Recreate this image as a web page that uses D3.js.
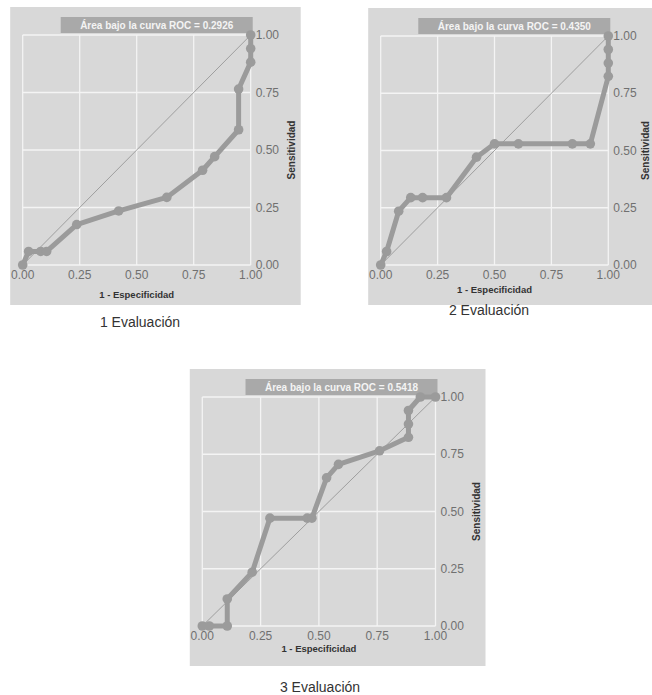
<!DOCTYPE html>
<html>
	<head>
		<meta charset="utf-8" />
		<title>Curvas ROC</title>
		<script src="https://d3js.org/d3.v7.min.js"></script>
		<style>
			body { margin: 0; background: #fff; }
			text { font-family: "Liberation Sans", Arial, sans-serif; }
		</style>
	</head>
	<body>
		<svg width="652" height="695"></svg>
		<script>
			// values
			const fpr1 = [0, 0.026, 0.079, 0.105, 0.237, 0.421, 0.632, 0.789, 0.842, 0.947, 0.947, 1, 1, 1];
			const tpr1 = [0, 0.059, 0.059, 0.059, 0.176, 0.235, 0.294, 0.412, 0.471, 0.588, 0.765, 0.882, 0.941, 1];

			const fpr2 = [0, 0.026, 0.079, 0.132, 0.184, 0.289, 0.421, 0.5, 0.605, 0.842, 0.921, 1, 1, 1, 1];
			const tpr2 = [0, 0.059, 0.235, 0.294, 0.294, 0.294, 0.471, 0.529, 0.529, 0.529, 0.529, 0.824, 0.882, 0.941, 1];

			const fpr3 = [0, 0.03, 0.107, 0.107, 0.214, 0.29, 0.45, 0.47, 0.533, 0.584, 0.76, 0.884, 0.884, 0.884, 0.935, 1];
			const tpr3 = [0, 0, 0, 0.118, 0.235, 0.471, 0.471, 0.471, 0.647, 0.706, 0.765, 0.824, 0.882, 0.941, 1, 1];

			const aucLabels = ["0.2926", "0.4350", "0.5418"];
			const captions = ["1 Evaluación", "2 Evaluación", "3 Evaluación"];
			const tickValues = [0, 0.25, 0.5, 0.75, 1];

			const svg = d3.select("svg");

			// plot box of each panel, and where its caption sits
			const panels = [
				{ x0: 22.7, x1: 250.7, y0: 35, y1: 265, xTitle: 33, yTitle: 41, capX: 140, capY: 327, fpr: fpr1, tpr: tpr1 },
				{ x0: 380.7, x1: 608.3, y0: 36, y1: 265, xTitle: 28, yTitle: 37, capX: 489, capY: 315, fpr: fpr2, tpr: tpr2 },
				{ x0: 202.3, x1: 435.5, y0: 397, y1: 626, xTitle: 26, yTitle: 41, capX: 320, capY: 692, fpr: fpr3, tpr: tpr3 }
			];

			function drawPanel(p, i) {
				const x = d3.scaleLinear().domain([0, 1]).range([p.x0, p.x1]);
				const y = d3.scaleLinear().domain([0, 1]).range([p.y1, p.y0]);
				const g = svg.append("g");

				// panel background
				g.append("rect")
					.attr("x", p.x0 - 12.5)
					.attr("y", p.y0 - 28)
					.attr("width", p.x1 - p.x0 + 62.5)
					.attr("height", p.y1 - p.y0 + 68)
					.attr("fill", "#d8d8d8");

				// grid
				g.selectAll(".vg").data(tickValues).enter().append("line")
					.attr("x1", (d) => x(d)).attr("x2", (d) => x(d))
					.attr("y1", p.y0).attr("y2", p.y1)
					.attr("stroke", "#f4f4f4").attr("stroke-width", 1.3);
				g.selectAll(".hg").data(tickValues).enter().append("line")
					.attr("x1", p.x0).attr("x2", p.x1)
					.attr("y1", (d) => y(d)).attr("y2", (d) => y(d))
					.attr("stroke", "#f4f4f4").attr("stroke-width", 1.3);

				// title box
				g.append("rect")
					.attr("x", p.x1 + 2 - 192)
					.attr("y", p.y0 - 18)
					.attr("width", 192)
					.attr("height", 16)
					.attr("fill", "#a9a9a9");
				g.append("text")
					.attr("x", p.x1 + 2 - 96)
					.attr("y", p.y0 - 10)
					.attr("dy", "0.35em")
					.attr("text-anchor", "middle")
					.attr("fill", "#f4f4f4")
					.style("font-size", "10px")
					.style("font-weight", "bold")
					.text("Área bajo la curva ROC = " + aucLabels[i]);

				// reference diagonal
				g.append("line")
					.attr("x1", x(0)).attr("y1", y(0))
					.attr("x2", x(1)).attr("y2", y(1))
					.attr("stroke", "#8f8f8f").attr("stroke-width", 0.8);

				// tick labels
				g.selectAll(".xt").data(tickValues).enter().append("text")
					.attr("x", (d) => x(d))
					.attr("y", p.y1 + 14)
					.attr("text-anchor", "middle")
					.attr("fill", "#707070")
					.style("font-size", "12px")
					.text((d) => d.toFixed(2));
				g.selectAll(".yt").data(tickValues).enter().append("text")
					.attr("x", p.x1 + 5)
					.attr("y", (d) => y(d))
					.attr("dy", "0.35em")
					.attr("fill", "#707070")
					.style("font-size", "12px")
					.text((d) => d.toFixed(2));

				// axis titles
				g.append("text")
					.attr("x", (p.x0 + p.x1) / 2)
					.attr("y", p.y1 + p.xTitle)
					.attr("text-anchor", "middle")
					.attr("fill", "#333")
					.style("font-size", "9.5px")
					.style("font-weight", "bold")
					.text("1 - Especificidad");
				g.append("text")
					.attr("transform", `translate(${p.x1 + p.yTitle},${(p.y0 + p.y1) / 2}) rotate(-90)`)
					.attr("text-anchor", "middle")
					.attr("dy", "0.35em")
					.attr("fill", "#333")
					.style("font-size", "10px")
					.style("font-weight", "bold")
					.text("Sensitividad");

				// ROC curve
				const pts = p.fpr.map((f, k) => [f, p.tpr[k]]);
				const line = d3.line().x((d) => x(d[0])).y((d) => y(d[1]));
				g.append("path")
					.attr("d", line(pts))
					.attr("fill", "none")
					.attr("stroke", "#9b9b9b")
					.attr("stroke-width", 5)
					.attr("stroke-linejoin", "round");
				g.selectAll(".pt").data(pts).enter().append("circle")
					.attr("cx", (d) => x(d[0]))
					.attr("cy", (d) => y(d[1]))
					.attr("r", 4.8)
					.attr("fill", "#9b9b9b");

				// caption
				svg.append("text")
					.attr("x", p.capX)
					.attr("y", p.capY)
					.attr("text-anchor", "middle")
					.attr("fill", "#333")
					.style("font-size", "14px")
					.text(captions[i]);
			}

			panels.forEach(drawPanel);
		</script>
	</body>
</html>
